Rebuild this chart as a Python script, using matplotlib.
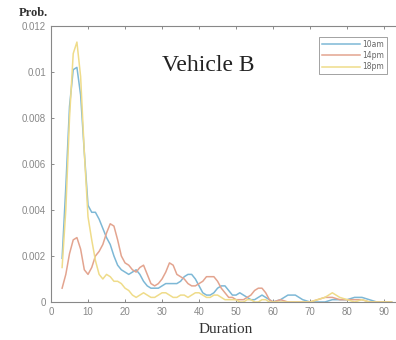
import matplotlib.pyplot as plt

# duration bins and probabilities for each time of day
duration = list(range(3, 61)) + list(range(62, 93, 2))

prob_10am = [0.0019, 0.0050, 0.0085, 0.0101, 0.0102, 0.0090, 0.0065, 0.0042, 0.0039, 0.0039,
             0.0036, 0.0032, 0.0028, 0.0025, 0.0020, 0.0016, 0.0014, 0.0013, 0.0012, 0.0013,
             0.0014, 0.0012, 0.0009, 0.0007, 0.0006, 0.0006, 0.0006, 0.0007, 0.0008, 0.0008,
             0.0008, 0.0008, 0.0009, 0.0011, 0.0012, 0.0012, 0.0010, 0.0007, 0.0004, 0.0003,
             0.0003, 0.0004, 0.0006, 0.0007, 0.0007, 0.0005, 0.0003, 0.0003, 0.0004, 0.0003,
             0.0002, 0.0001, 0.0001, 0.0002, 0.0003, 0.0002, 0.0001, 0.0000,
             0.0001, 0.0003, 0.0003, 0.0001, 0.0000, 0.0000, 0.0000, 0.0001, 0.0001, 0.0001,
             0.0002, 0.0002, 0.0001, 0.0000, 0.0000, 0.0000]

prob_14pm = [0.0006, 0.0012, 0.0021, 0.0027, 0.0028, 0.0023, 0.0014, 0.0012, 0.0015, 0.0020,
             0.0022, 0.0025, 0.0030, 0.0034, 0.0033, 0.0027, 0.0020, 0.0017, 0.0016, 0.0014,
             0.0013, 0.0015, 0.0016, 0.0012, 0.0008, 0.0007, 0.0008, 0.0010, 0.0013, 0.0017,
             0.0016, 0.0012, 0.0011, 0.0010, 0.0008, 0.0007, 0.0007, 0.0008, 0.0009, 0.0011,
             0.0011, 0.0011, 0.0009, 0.0006, 0.0004, 0.0002, 0.0002, 0.0001, 0.0001, 0.0001,
             0.0002, 0.0003, 0.0005, 0.0006, 0.0006, 0.0004, 0.0001, 0.0000,
             0.0001, 0.0000, 0.0000, 0.0000, 0.0000, 0.0001, 0.0002, 0.0002, 0.0001, 0.0001,
             0.0001, 0.0001, 0.0000, 0.0000, 0.0000, 0.0000]

prob_18pm = [0.0015, 0.0040, 0.0080, 0.0108, 0.0113, 0.0098, 0.0065, 0.0037, 0.0027, 0.0018,
             0.0012, 0.0010, 0.0012, 0.0011, 0.0009, 0.0009, 0.0008, 0.0006, 0.0005, 0.0003,
             0.0002, 0.0003, 0.0004, 0.0003, 0.0002, 0.0002, 0.0003, 0.0004, 0.0004, 0.0003,
             0.0002, 0.0002, 0.0003, 0.0003, 0.0002, 0.0003, 0.0004, 0.0004, 0.0003, 0.0002,
             0.0002, 0.0003, 0.0003, 0.0002, 0.0001, 0.0001, 0.0001, 0.0001, 0.0000, 0.0000,
             0.0001, 0.0001, 0.0000, 0.0000, 0.0001, 0.0001, 0.0000, 0.0000,
             0.0000, 0.0000, 0.0000, 0.0000, 0.0000, 0.0001, 0.0002, 0.0004, 0.0002, 0.0001,
             0.0000, 0.0001, 0.0000, 0.0000, 0.0000, 0.0000]

labels = ["10am", "14pm", "18pm"]
colors = ["#7db8d6", "#e3a48f", "#efdc8a"]

fig = plt.figure(figsize=(3.96, 3.4), dpi=100)
ax = fig.add_axes([0.1288, 0.1118, 0.8712, 0.8118])

for ys, lab, c in zip([prob_10am, prob_14pm, prob_18pm], labels, colors):
    ax.plot(duration, ys, color=c, lw=1.1, label=lab)

ax.set_xlim(0, 93.2)
ax.set_ylim(0, 0.012)
ax.set_xticks(range(0, 100, 10))
ax.set_yticks([0, 0.002, 0.004, 0.006, 0.008, 0.01, 0.012])
ax.set_yticklabels(["0", "0.002", "0.004", "0.006", "0.008", "0.01", "0.012"])
ax.tick_params(direction="in", length=2.5, width=0.6, colors="#777777", labelcolor="#888888",
               labelsize=7, top=True, right=False)
for lab in ax.get_xticklabels() + ax.get_yticklabels():
    lab.set_fontfamily("Liberation Sans")
for s in ["left", "bottom", "top"]:
    ax.spines[s].set_color("#888888")
    ax.spines[s].set_linewidth(0.8)
ax.spines["right"].set_visible(False)

ax.text(0.455, 0.855, "Vehicle B", transform=ax.transAxes, ha="center", va="center",
        fontsize=17, family="Liberation Serif", color="#222222")

leg = ax.legend(loc="upper right", bbox_to_anchor=(0.985, 0.975), fontsize=5.5,
                frameon=True, fancybox=False, handlelength=5, labelspacing=0.3,
                borderpad=0.4, handletextpad=0.3, markerfirst=True)
leg.get_frame().set_edgecolor("#777777")
leg.get_frame().set_linewidth(0.6)
for t in leg.get_texts():
    t.set_color("#666666")

fig.text(0.085, 0.962, "Prob.", ha="center", va="center", fontsize=9,
         family="Liberation Serif", color="#333333", fontweight="bold")
fig.text(0.57, 0.03, "Duration", ha="center", va="center", fontsize=11,
         family="Liberation Serif", color="#333333")

fig.savefig("out.png", dpi=100)
